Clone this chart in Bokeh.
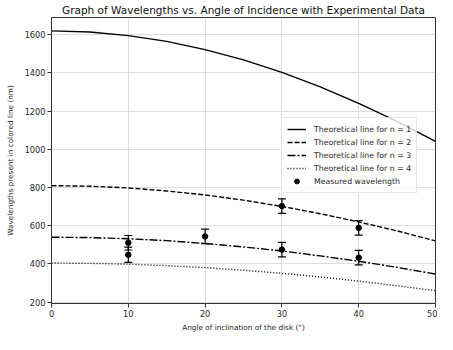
from bokeh.plotting import figure
from bokeh.models import Range1d, Legend, LegendItem, FixedTicker
from bokeh.embed import file_html
from bokeh.resources import INLINE

# Angles (degrees) at which theoretical curves are sampled
angles = [0, 5, 10, 15, 20, 25, 30, 35, 40, 45, 50]
theory_n1 = [1620, 1614, 1595, 1565, 1522, 1468, 1403, 1327, 1241, 1146, 1041]
theory_n2 = [810, 807, 798, 782, 761, 734, 701, 663, 620, 573, 521]
theory_n3 = [540, 538, 532, 522, 507, 489, 468, 442, 414, 382, 347]
theory_n4 = [405, 403, 399, 391, 381, 367, 351, 332, 310, 286, 260]

# Measured data
meas_angle = [10, 10, 20, 30, 30, 40, 40]
meas_wl = [511, 448, 544, 703, 475, 589, 433]
meas_err = [38, 40, 38, 38, 38, 38, 38]

x_ticks = [0, 10, 20, 30, 40, 50]
y_ticks = [200, 400, 600, 800, 1000, 1200, 1400, 1600]

labels = ["Theoretical line for n = 1", "Theoretical line for n = 2",
          "Theoretical line for n = 3", "Theoretical line for n = 4",
          "Measured wavelength"]

FONT = "DejaVu Sans"

p = figure(width=437, height=334, output_backend="svg", toolbar_location=None,
           x_range=Range1d(0, 50), y_range=Range1d(193, 1690),
           min_border_left=51, min_border_right=2, min_border_top=0, min_border_bottom=0,
           title="Graph of Wavelengths vs. Angle of Incidence with Experimental Data")

p.title.text_font = FONT
p.title.text_font_size = "10.5px"
p.title.text_font_style = "normal"
p.title.text_color = "#111111"
p.title.align = "center"
p.title.standoff = 3

for ax in (p.xaxis, p.yaxis):
    ax.major_label_text_font = FONT
    ax.major_label_text_font_size = "8.2px"
    ax.major_label_text_color = "#262626"
    ax.axis_label_text_font = FONT
    ax.axis_label_text_font_size = "7.3px"
    ax.axis_label_text_font_style = "normal"
    ax.axis_label_text_color = "#262626"
    ax.major_tick_out = 4
    ax.major_tick_in = 0
    ax.minor_tick_out = 0
    ax.minor_tick_in = 0
    ax.axis_line_color = "#333333"
    ax.major_tick_line_color = "#333333"
    ax.major_label_standoff = 2

p.xaxis.axis_label_standoff = 3
p.yaxis.axis_label_standoff = 7

p.xaxis.ticker = FixedTicker(ticks=x_ticks)
p.yaxis.ticker = FixedTicker(ticks=y_ticks)
p.xaxis.axis_label = "Angle of inclination of the disk (°)"
p.yaxis.axis_label = "Wavelengths present in colored line (nm)"

p.grid.grid_line_color = "#d4d4d4"
p.grid.grid_line_width = 0.8
p.outline_line_color = "#333333"
p.outline_line_width = 1

r1 = p.line(angles, theory_n1, line_color="black", line_width=1.4)
r2 = p.line(angles, theory_n2, line_color="black", line_width=1.4, line_dash="5 2")
r3 = p.line(angles, theory_n3, line_color="black", line_width=1.4, line_dash="8 2 2 2")
r4 = p.line(angles, theory_n4, line_color="black", line_width=1.4, line_dash="1 2")

low = [w - e for w, e in zip(meas_wl, meas_err)]
high = [w + e for w, e in zip(meas_wl, meas_err)]
p.segment(x0=meas_angle, y0=low, x1=meas_angle, y1=high, line_color="black", line_width=1.2)
p.scatter(meas_angle, low, marker="dash", size=8, line_color="black", line_width=1.2)
p.scatter(meas_angle, high, marker="dash", size=8, line_color="black", line_width=1.2)
r5 = p.scatter(meas_angle, meas_wl, marker="circle", size=5.5, color="black")

legend = Legend(items=[LegendItem(label=labels[0], renderers=[r1]),
                       LegendItem(label=labels[1], renderers=[r2]),
                       LegendItem(label=labels[2], renderers=[r3]),
                       LegendItem(label=labels[3], renderers=[r4]),
                       LegendItem(label=labels[4], renderers=[r5])],
                location=(230, 110))
legend.label_text_font = FONT
legend.label_text_font_size = "7.8px"
legend.label_text_color = "#262626"
legend.glyph_width = 19
legend.glyph_height = 12
legend.label_height = 12
legend.spacing = 1
legend.padding = 5
legend.label_standoff = 8
legend.margin = 0
legend.border_line_color = "#cccccc"
legend.background_fill_alpha = 0.8
p.add_layout(legend)

open("out.html", "w").write(file_html(p, INLINE))
